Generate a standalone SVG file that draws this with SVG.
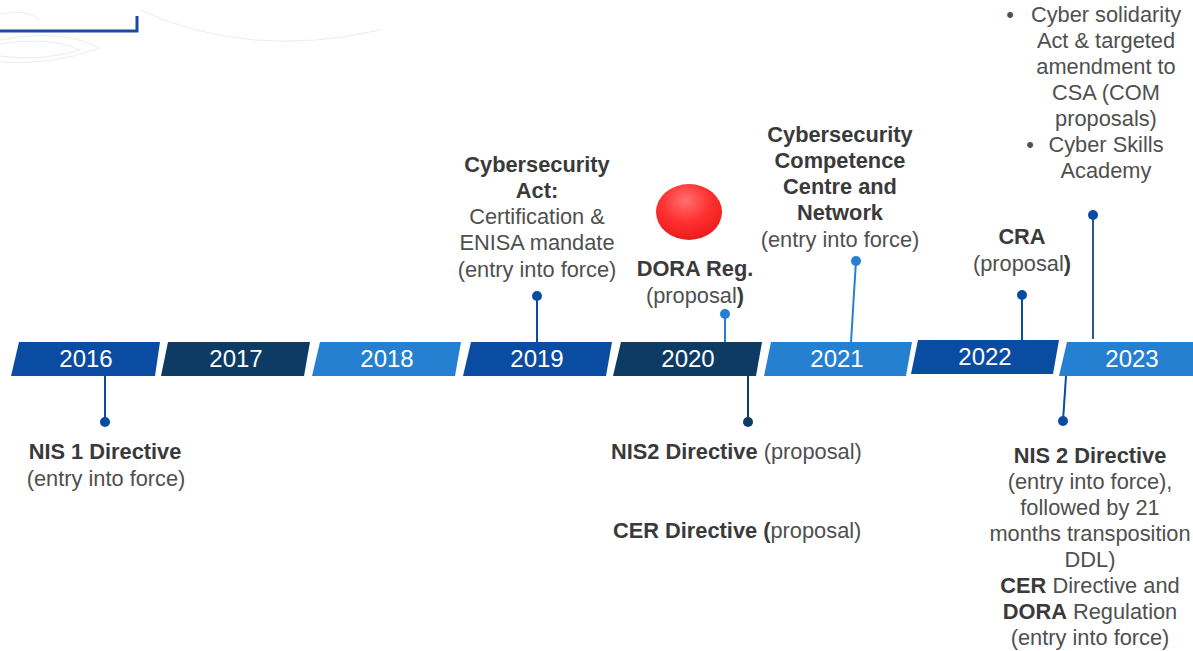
<svg xmlns="http://www.w3.org/2000/svg" width="1193" height="651" viewBox="0 0 1193 651">
<defs>
<style>
text{font-family:"Liberation Sans",Arial,sans-serif;}
.yr{font-size:24px;fill:#ffffff;text-anchor:middle;}
.t{font-size:21.8px;fill:#4f4f4f;text-anchor:middle;}
.tl{font-size:21.8px;fill:#4f4f4f;}
.b{font-weight:bold;fill:#3a3a3a;}
.c1{fill:#0b4ca3;}
.c2{fill:#0e3b63;}
.c3{fill:#2680d2;}
.s1{stroke:#0b4ca3;stroke-width:2;fill:none;}
.s2{stroke:#0e3b63;stroke-width:2;fill:none;}
.s3{stroke:#2680d2;stroke-width:2;fill:none;}
.s4{stroke:#2f5688;stroke-width:2;fill:none;}
</style>
<radialGradient id="red" cx="0.45" cy="0.3" r="0.75">
<stop offset="0" stop-color="#ff7070"/>
<stop offset="0.5" stop-color="#ff3030"/>
<stop offset="1" stop-color="#e81818"/>
</radialGradient>
</defs>
<rect width="1193" height="651" fill="#ffffff"/>
<g id="decoration">
<g fill="none" stroke="#e8eef6" stroke-width="1">
<path d="M0 44 Q50 36 80 50 Q40 62 0 56"/>
<path d="M0 40 Q60 28 100 48 Q50 66 0 62"/>
<path d="M0 14 Q25 8 40 20"/>
<path d="M140 10 Q250 60 380 30"/>
</g>
<path d="M0 31 L137 31 L137 16" fill="none" stroke="#1b4b9f" stroke-width="3"/>
</g>
<g id="timeline">
<polygon class="c1" points="19,342 160,342 155,376 11,376"/>
<polygon class="c2" points="168,342 310,342 304,376 161,376"/>
<polygon class="c3" points="320,342 461,342 455,376 312,376"/>
<polygon class="c1" points="471,342 612,342 606,376 463,376"/>
<polygon class="c2" points="621,342 762,342 756,376 613,376"/>
<polygon class="c3" points="771,342 912,342 906,376 764,376"/>
<polygon class="c1" points="918,340 1059,340 1053,374 911,374"/>
<polygon class="c3" points="1067,342 1193,342 1193,376 1059,376"/>
<text class="yr" x="86" y="367">2016</text>
<text class="yr" x="236" y="367">2017</text>
<text class="yr" x="387" y="367">2018</text>
<text class="yr" x="537" y="367">2019</text>
<text class="yr" x="688" y="367">2020</text>
<text class="yr" x="837" y="367">2021</text>
<text class="yr" x="985" y="365">2022</text>
<text class="yr" x="1132" y="367">2023</text>
</g>
<g id="connectors">
<line class="s1" x1="105" y1="376" x2="105" y2="422"/><circle class="c1" cx="105" cy="422" r="5"/>
<line class="s1" x1="537" y1="296" x2="537" y2="342"/><circle class="c1" cx="537" cy="296" r="5"/>
<line class="s3" x1="725" y1="314" x2="725" y2="342"/><circle class="c3" cx="725" cy="314" r="5"/>
<line class="s2" x1="748" y1="376" x2="748" y2="422"/><circle class="c2" cx="748" cy="422" r="5"/>
<line class="s3" x1="856" y1="261" x2="851" y2="342"/><circle class="c3" cx="856" cy="261" r="5"/>
<line class="s1" x1="1022" y1="295" x2="1022" y2="340"/><circle class="c1" cx="1022" cy="295" r="5"/>
<line class="s4" x1="1093" y1="215" x2="1093" y2="339"/><circle class="c1" cx="1093" cy="215" r="5"/>
<line class="s1" x1="1066" y1="376" x2="1063" y2="421"/><circle class="c1" cx="1063" cy="421" r="5"/>
</g>
<g id="n-nis1">
<text class="t" x="105" y="459"><tspan class="b">NIS 1 Directive</tspan></text>
<text class="t" x="106" y="486">(entry into force)</text>
</g>
<g id="n-csa">
<text class="t b" x="537" y="172">Cybersecurity</text>
<text class="t b" x="537" y="198">Act:</text>
<text class="t" x="537" y="224">Certification &amp;</text>
<text class="t" x="537" y="250">ENISA mandate</text>
<text class="t" x="537" y="277">(entry into force)</text>
</g>
<g id="n-dora-marker">
<ellipse cx="689" cy="212" rx="33" ry="28" fill="url(#red)"/>
</g>
<g id="n-dora">
<text class="t b" x="695" y="276">DORA Reg.</text>
<text class="t" x="695" y="303">(proposal<tspan class="b">)</tspan></text>
</g>
<g id="n-cccn">
<text class="t b" x="840" y="142">Cybersecurity</text>
<text class="t b" x="840" y="168">Competence</text>
<text class="t b" x="840" y="194">Centre and</text>
<text class="t b" x="840" y="220">Network</text>
<text class="t" x="840" y="247">(entry into force)</text>
</g>
<g id="n-cra">
<text class="t b" x="1022" y="244">CRA</text>
<text class="t" x="1022" y="271">(proposal<tspan class="b">)</tspan></text>
</g>
<g id="n-2023-top">
<text class="t" x="1010" y="22">•</text>
<text class="t" x="1106" y="22">Cyber solidarity</text>
<text class="t" x="1106" y="48">Act &amp; targeted</text>
<text class="t" x="1106" y="74">amendment to</text>
<text class="t" x="1106" y="100">CSA (COM</text>
<text class="t" x="1106" y="126">proposals)</text>
<text class="t" x="1030" y="152">•</text>
<text class="t" x="1106" y="152">Cyber Skills</text>
<text class="t" x="1106" y="178">Academy</text>
</g>
<g id="n-nis2-proposal">
<text class="tl" x="611" y="459"><tspan class="b">NIS2 Directive</tspan> (proposal)</text>
</g>
<g id="n-cer-proposal">
<text class="tl" x="613" y="538"><tspan class="b">CER Directive (</tspan>proposal)</text>
</g>
<g id="n-2023-bottom">
<text class="t b" x="1090" y="463">NIS 2 Directive</text>
<text class="t" x="1090" y="489">(entry into force),</text>
<text class="t" x="1090" y="515">followed by 21</text>
<text class="t" x="1090" y="541">months transposition</text>
<text class="t" x="1090" y="567">DDL)</text>
<text class="t" x="1090" y="593"><tspan class="b">CER</tspan> Directive and</text>
<text class="t" x="1090" y="619"><tspan class="b">DORA</tspan> Regulation</text>
<text class="t" x="1090" y="645">(entry into force)</text>
</g>
</svg>
